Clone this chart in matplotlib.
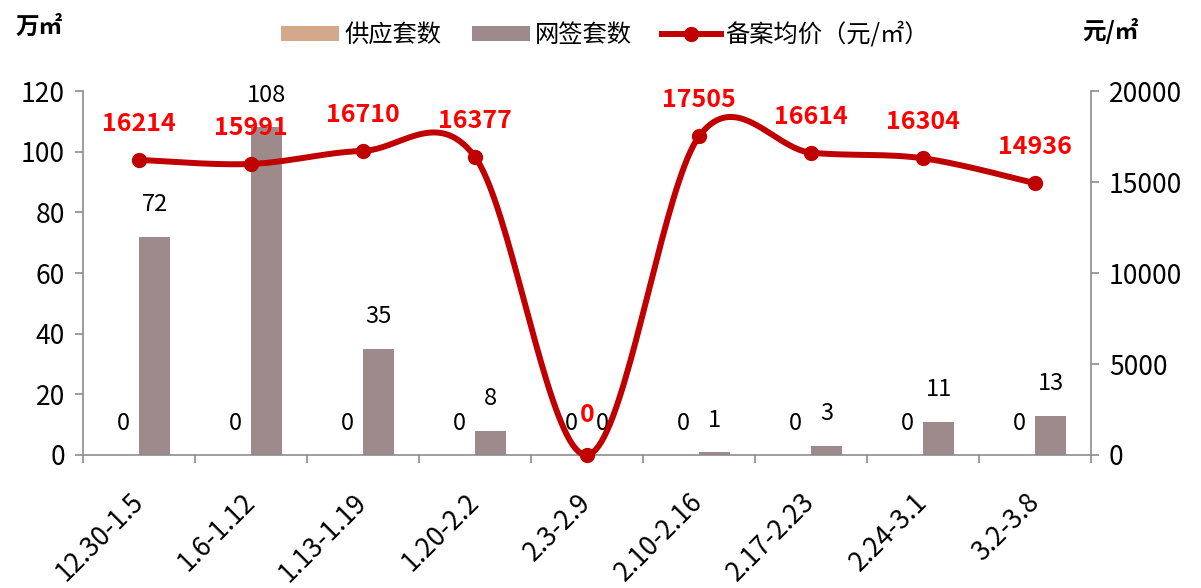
import matplotlib
matplotlib.use("Agg")
import matplotlib.pyplot as plt
import numpy as np

plt.rcParams['font.family'] = ['Noto Sans CJK SC', 'DejaVu Sans']

# data
weeks = ["12.30-1.5", "1.6-1.12", "1.13-1.19", "1.20-2.2", "2.3-2.9",
         "2.10-2.16", "2.17-2.23", "2.24-3.1", "3.2-3.8"]
supply = [0, 0, 0, 0, 0, 0, 0, 0, 0]
signed = [72, 108, 35, 8, 0, 1, 3, 11, 13]
price = [16214, 15991, 16710, 16377, 0, 17505, 16614, 16304, 14936]

c_supply = "#D4A88A"
c_signed = "#9E8A8B"
c_line = "#C00000"
c_axis = "#8C8C8C"


def smooth(xs, ys, n=40):
    # excel-like smoothed line: bezier segments, control points from neighbours
    xs = np.asarray(xs, float)
    ys = np.asarray(ys, float)
    px = np.concatenate([[xs[0]], xs, [xs[-1]]])
    py = np.concatenate([[ys[0]], ys, [ys[-1]]])
    outx, outy = [], []
    t = np.linspace(0, 1, n)
    for i in range(1, len(px) - 2):
        x0, x1, x2, x3 = px[i - 1], px[i], px[i + 1], px[i + 2]
        y0, y1, y2, y3 = py[i - 1], py[i], py[i + 1], py[i + 2]
        c1x, c1y = x1 + (x2 - x0) / 6, y1 + (y2 - y0) / 6
        c2x, c2y = x2 - (x3 - x1) / 6, y2 - (y3 - y1) / 6
        bx = (1-t)**3*x1 + 3*(1-t)**2*t*c1x + 3*(1-t)*t**2*c2x + t**3*x2
        by = (1-t)**3*y1 + 3*(1-t)**2*t*c1y + 3*(1-t)*t**2*c2y + t**3*y2
        outx.extend(bx)
        outy.extend(by)
    return np.array(outx), np.array(outy)


fig = plt.figure(figsize=(12.01, 5.88), dpi=100)
ax = fig.add_axes([0.0691, 0.2262, 0.8393, 0.619])
ax2 = ax.twinx()

x = np.arange(len(weeks))
w = 0.28
ax.bar(x - w / 2, supply, w, color=c_supply, label="供应套数")
ax.bar(x + w / 2, signed, w, color=c_signed, label="网签套数")

for xi, v in zip(x, supply):
    ax.annotate(str(v), (xi - w / 2, v), xytext=(0, 23), textcoords="offset points",
                ha="center", va="center", fontsize=17)
for xi, v in zip(x, signed):
    ax.annotate(str(v), (xi + w / 2, v), xytext=(0, 23), textcoords="offset points",
                ha="center", va="center", fontsize=17)

sx, sy = smooth(x, price)
ax2.plot(sx, sy, color=c_line, lw=4.3, solid_capstyle="round", clip_on=False)
ax2.plot(x, price, "o", color=c_line, ms=10, clip_on=False)
ax2.plot([], [], "-o", color=c_line, lw=4.3, ms=10, label="备案均价（元/㎡）")
for xi, v in zip(x, price):
    off = 29 if v == 0 else 26
    ax2.annotate(str(v), (xi, v), xytext=(0, off), textcoords="offset points",
                 ha="center", va="center", fontsize=18, fontweight="bold", color="#FF0000")

ax.set_xlim(-0.5, len(weeks) - 0.5)
ax.set_ylim(0, 120)
ax.set_yticks(range(0, 121, 20))
ax2.set_ylim(0, 20000)
ax2.set_yticks(range(0, 20001, 5000))

ax.set_xticks(np.arange(-0.5, len(weeks), 1))
ax.set_xticklabels([])
ax.set_xticks(x, minor=True)
ax.set_xticklabels(weeks, minor=True, rotation=45, ha="right", va="center",
                   rotation_mode="anchor", fontsize=19)
ax.tick_params(axis="x", which="minor", length=0, pad=31)
ax.tick_params(axis="x", which="major", length=6, color=c_axis, width=1.2)
ax.tick_params(axis="y", length=6, color=c_axis, width=1.2, labelsize=19, pad=7)
ax2.tick_params(axis="y", length=6, color=c_axis, width=1.2, labelsize=19, pad=7)

for a in (ax, ax2):
    a.spines["top"].set_visible(False)
    for s in ("left", "right", "bottom"):
        a.spines[s].set_color(c_axis)
        a.spines[s].set_linewidth(1.2)
ax.spines["right"].set_visible(False)
ax2.spines["left"].set_visible(False)
ax2.spines["bottom"].set_visible(False)

fig.text(0.013, 0.955, "万㎡", fontsize=17, fontweight="bold", va="center")
fig.text(0.901, 0.948, "元/㎡", fontsize=17, fontweight="bold", va="center")

h1, l1 = ax.get_legend_handles_labels()
h2, l2 = ax2.get_legend_handles_labels()
fig.legend(h1 + h2, l1 + l2, loc="center", bbox_to_anchor=(605 / 1201, 1 - 35 / 588),
           ncol=3, frameon=False, fontsize=17.5, handlelength=2.4, handleheight=0.6,
           handletextpad=0.2, columnspacing=1.25)

fig.savefig("out.png", dpi=100)
